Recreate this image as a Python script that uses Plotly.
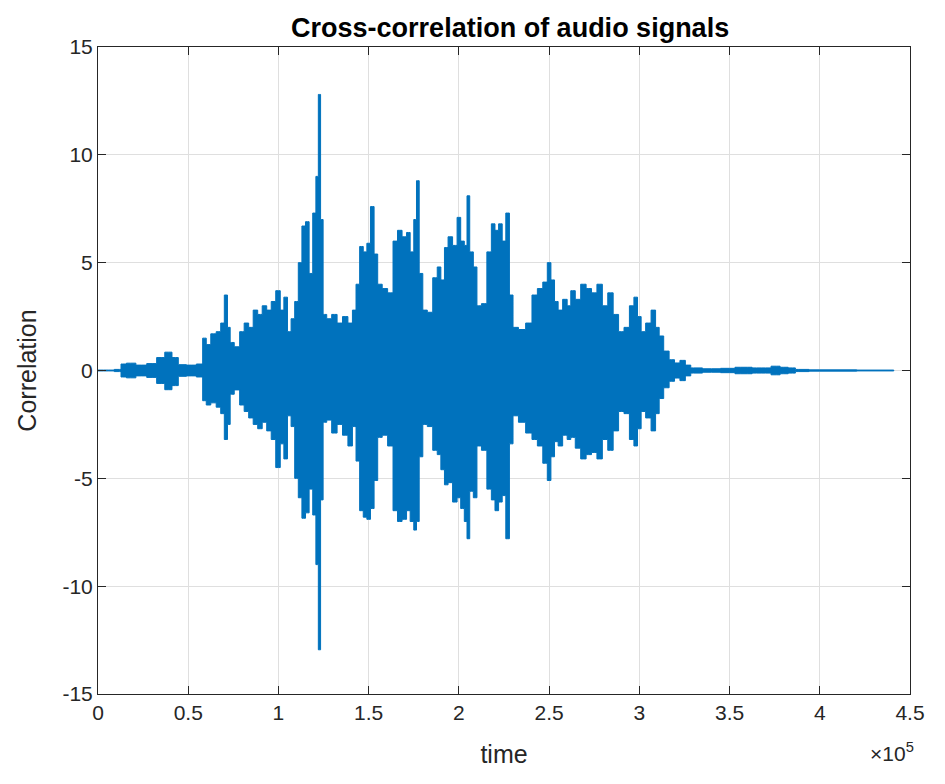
import plotly.graph_objects as go

# Envelope of the cross-correlation signal
time_samples = [0, 6000, 12000, 13500, 18000, 24000, 30000, 35000, 39000, 43000, 46000, 52000, 57000,
                59000, 61000, 64000, 67000, 69000, 71000, 72500, 74000, 77000, 80000, 82000, 85000, 87000,
                90000, 92000, 95000, 97000, 100000, 102000, 104000, 106000, 108000, 110000, 112000, 114000,
                116000, 118000, 120000, 121500, 122700, 124000, 125500, 128000, 131000, 134000, 137000,
                140000, 142000, 144000, 146000, 148000, 150000, 152000, 154000, 156000, 159000, 162000,
                165000, 167000, 170000, 172000, 174000, 176000, 177000, 179000, 181000, 184000, 187000,
                189000, 191000, 193000, 195000, 198000, 200000, 202000, 204000, 205000, 207000, 209000,
                211000, 214000, 217000, 219000, 221000, 223000, 225000, 227000, 229000, 231000, 235000,
                239000, 242000, 245000, 248000, 250000, 252000, 254000, 256000, 259000, 261000, 263000,
                266000, 269000, 272000, 275000, 278000, 281000, 284000, 287000, 290000, 293000, 296000,
                298000, 300000, 302000, 305000, 308000, 310000, 312000, 315000, 318000, 321000, 324000,
                327000, 330000, 340000, 350000, 356000, 360000, 365000, 370000, 376000, 380000, 385000,
                388000, 400000, 441000]

upper_env = [0.02, 0.02, 0.05, 0.3, 0.34, 0.25, 0.32, 0.6, 0.85, 0.6, 0.27, 0.25, 0.3,
             1.5, 1.2, 1.7, 1.8, 2.2, 3.5, 2.0, 1.3, 1.1, 1.8, 2.2, 2.0, 2.8,
             2.6, 3.0, 2.8, 3.2, 3.7, 2.8, 3.4, 1.8, 2.4, 3.2, 5.0, 6.7,
             6.9, 4.5, 7.3, 9.0, 12.8, 7.0, 2.6, 2.4, 2.6, 2.2, 2.5,
             2.2, 2.8, 4.0, 5.75, 5.5, 5.9, 7.6, 5.4, 4.0, 3.8, 3.6,
             6.0, 6.5, 6.2, 6.4, 5.5, 7.0, 8.8, 4.5, 2.8, 2.7, 4.3,
             4.8, 4.2, 5.7, 6.2, 5.8, 7.1, 6.0, 5.8, 8.1, 5.5, 4.8,
             3.0, 3.1, 5.5, 6.8, 6.5, 6.8, 6.0, 7.3, 3.5, 2.0, 1.9,
             2.2, 3.5, 3.8, 4.1, 5.0, 4.2, 3.2, 2.8, 3.3, 3.0, 3.7,
             3.3, 4.0, 3.8, 3.6, 4.0, 3.0, 3.6, 2.6, 1.8, 2.0, 3.0,
             3.4, 2.5, 1.8, 2.2, 2.8, 2.0, 1.6, 0.9, 0.5, 0.35, 0.47,
             0.25, 0.12, 0.08, 0.1, 0.15, 0.15, 0.12, 0.12, 0.2, 0.15, 0.12,
             0.05, 0.03, 0.02]

lower_env = [-0.02, -0.02, -0.05, -0.3, -0.34, -0.25, -0.32, -0.6, -0.89, -0.7, -0.27, -0.25, -0.3,
             -1.4, -1.6, -1.5, -1.7, -2.0, -3.2, -2.5, -1.1, -0.9, -1.6, -1.9, -2.2, -2.5,
             -2.7, -2.4, -2.8, -3.2, -4.5, -3.4, -4.1, -2.1, -2.6, -5.0, -5.9, -6.85,
             -6.6, -5.5, -6.7, -9.0, -12.95, -6.0, -2.4, -2.3, -2.9, -2.5, -3.0,
             -3.5, -2.6, -4.2, -6.5, -6.8, -6.9, -6.4, -5.1, -3.1, -3.0, -3.5,
             -6.5, -7.0, -6.9, -6.5, -7.0, -7.4, -7.0, -4.0, -2.5, -2.6, -3.7,
             -3.9, -4.6, -5.3, -5.2, -6.1, -5.9, -6.4, -7.0, -7.8, -5.6, -5.9,
             -3.5, -3.7, -5.5, -6.0, -6.5, -6.1, -5.8, -7.8, -3.4, -2.1, -2.4,
             -2.9, -3.2, -3.5, -4.3, -5.1, -4.0, -3.3, -3.5, -3.0, -3.2, -3.1,
             -3.6, -4.1, -3.9, -3.8, -4.1, -3.2, -3.7, -2.8, -1.9, -2.0, -3.2,
             -3.5, -2.7, -1.9, -2.2, -2.8, -2.0, -1.3, -0.8, -0.5, -0.35, -0.47,
             -0.25, -0.12, -0.08, -0.1, -0.15, -0.15, -0.12, -0.12, -0.2, -0.15, -0.12,
             -0.05, -0.03, -0.02]

x_tick_vals = [0, 50000, 100000, 150000, 200000, 250000, 300000, 350000, 400000, 450000]
x_tick_text = ["0", "0.5", "1", "1.5", "2", "2.5", "3", "3.5", "4", "4.5"]
y_tick_vals = [-15, -10, -5, 0, 5, 10, 15]
y_tick_text = ["-15", "-10", "-5", "0", "5", "10", "15"]

line_color = "#0072BD"
axis_color = "#262626"
grid_color = "rgb(223,223,223)"
font_family = "Liberation Sans, Arial, Helvetica, sans-serif"

poly_x = time_samples + time_samples[::-1]
poly_y = upper_env + lower_env[::-1]

fig = go.Figure()
fig.add_trace(go.Scatter(
    x=poly_x, y=poly_y, mode="lines", fill="toself",
    fillcolor=line_color, line=dict(color=line_color, width=1, shape="hvh"),
    hoverinfo="skip", showlegend=False,
))

axis_common = dict(
    showline=True, linecolor=axis_color, linewidth=1, mirror="allticks",
    ticks="inside", ticklen=8, tickcolor=axis_color, tickwidth=1,
    showgrid=True, gridcolor=grid_color, gridwidth=1, zeroline=False,
    tickfont=dict(family=font_family, size=21, color=axis_color),
)

# The page body has an 8px margin on every side, so the figure is made
# 16px smaller than the window and its margins are offset by 8px.
fig.update_layout(
    width=929, height=768,
    margin=dict(l=90, r=16, t=39, b=76),
    paper_bgcolor="white", plot_bgcolor="white",
    font=dict(family=font_family, color=axis_color),
    title=dict(text="<b>Cross-correlation of audio signals</b>",
               x=0.5405, xanchor="center", y=0.974, yanchor="middle",
               font=dict(family=font_family, size=27, color="black")),
    xaxis=dict(range=[0, 450000], tickvals=x_tick_vals, ticktext=x_tick_text,
               title=dict(text="time", font=dict(family=font_family, size=25, color=axis_color), standoff=22),
               **axis_common),
    yaxis=dict(range=[-15, 15], tickvals=y_tick_vals, ticktext=y_tick_text,
               title=dict(text="Correlation", font=dict(family=font_family, size=25, color=axis_color), standoff=18),
               **axis_common),
    annotations=[dict(text="×10<sup>5</sup>", xref="paper", yref="paper", x=1.007, y=-0.113,
                      xanchor="right", yanchor="bottom", showarrow=False,
                      font=dict(family=font_family, size=21, color=axis_color))],
)

fig.write_html("out.html")
